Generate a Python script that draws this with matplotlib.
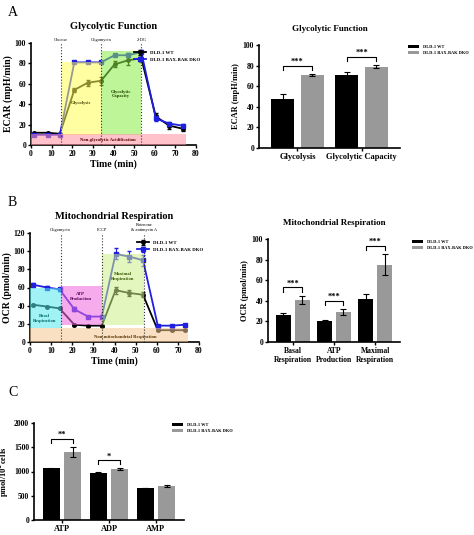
import matplotlib
matplotlib.use("Agg")
import matplotlib.pyplot as plt
import numpy as np
from matplotlib.patches import Rectangle

plt.rcParams['font.family'] = ['Liberation Serif', 'DejaVu Serif']
plt.rcParams['font.weight'] = 'bold'

time = [1.5, 8, 14, 21, 27.5, 34, 40.5, 47, 53.5, 60.5, 67, 73.5]
ecar_wt = [12, 12, 11, 54, 61, 63, 79, 83, 85, 28, 19, 16]
ecar_wt_err = [1, 1, 1, 2, 3, 4, 3, 5, 4, 3, 3, 2]
ecar_ko = [10, 10, 10, 81, 81, 81, 88, 88, 91, 26, 21, 19]
ecar_ko_err = [1, 1, 1, 1, 1, 1, 1, 2, 2, 2, 2, 2]
ocr_wt = [41, 39, 37, 19, 18, 18, 57, 54, 52, 13, 13, 13]
ocr_wt_err = [1, 1, 1, 1, 1, 1, 4, 3, 3, 1, 1, 1]
ocr_ko = [63, 60, 58, 36, 28, 28, 97, 94, 90, 18, 18, 19]
ocr_ko_err = [2, 2, 2, 2, 1, 1, 6, 6, 6, 1, 1, 1]

glyc_cats = ['Glycolysis', 'Glycolytic Capacity']
glyc_wt = [48, 71]; glyc_wt_err = [4, 3]
glyc_ko = [71, 79]; glyc_ko_err = [1, 1.5]

mito_cats = ['Basal\nRespiration', 'ATP\nProduction', 'Maximal\nRespiration']
mito_wt = [26, 20, 42]; mito_wt_err = [2, 1.5, 5]
mito_ko = [41, 29, 75]; mito_ko_err = [4, 3, 10]

nuc_cats = ['ATP', 'ADP', 'AMP']
nuc_wt = [1070, 970, 660]; nuc_wt_err = [10, 20, 8]
nuc_ko = [1400, 1050, 700]; nuc_ko_err = [110, 20, 25]

fig = plt.figure(figsize=(4.74, 5.35), dpi=100)

def fa(x0, y0, x1, y1):
    return fig.add_axes([x0/474, 1-y1/535, (x1-x0)/474, (y1-y0)/535])

def style(ax):
    for s in ['top', 'right']:
        ax.spines[s].set_visible(False)
    for s in ['left', 'bottom']:
        ax.spines[s].set_linewidth(1.2)
    ax.tick_params(labelsize=5.5, width=1, length=2.5, pad=1)

def lineplot(ax, wt, wte, ko, koe, ymax, ylabel, title, rects, vlines, vlab, rlabels):
    ax.errorbar(time, wt, yerr=wte, color='black', marker='o', ms=2.5, lw=1.3, capsize=1.5, elinewidth=0.8, label='DLD-1 WT', zorder=2)
    ax.errorbar(time, ko, yerr=koe, color='#1f1fe0', marker='s', ms=2.5, lw=1.3, capsize=1.5, elinewidth=0.8, label='DLD-1 BAX-BAK DKO', zorder=2)
    for (x0, x1, y0, y1, c) in rects:
        ax.add_patch(Rectangle((x0, y0), x1-x0, y1-y0, color=c, alpha=0.55, lw=0, zorder=3))
    for x, t in zip(vlines, vlab):
        ax.axvline(x, ls=':', color='#333333', lw=0.8, zorder=4)
        ax.text(x, ymax*1.01, t, fontsize=3.2, ha='center', va='bottom', fontweight='normal')
    for (x, y, t, c) in rlabels:
        ax.text(x, y, t, fontsize=3.3, ha='center', va='center', color=c, zorder=5)
    ax.set_xlim(0, 80); ax.set_ylim(0, ymax)
    ax.set_xticks(range(0, 81, 10))
    ax.set_xlabel('Time (min)', fontsize=7, fontweight='bold', labelpad=1)
    ax.set_ylabel(ylabel, fontsize=7, fontweight='bold', labelpad=1)
    ax.set_title(title, fontsize=7.5, fontweight='bold', pad=10)
    ax.legend(fontsize=3.5, frameon=False, loc='upper right', bbox_to_anchor=(1.05, 0.97), handlelength=2.5)
    style(ax)

ax1 = fa(31, 43, 196, 145)
lineplot(ax1, ecar_wt, ecar_wt_err, ecar_ko, ecar_ko_err, 100, 'ECAR (mpH/min)', 'Glycolytic Function',
         [(14.5, 34, 10, 81, '#ffff55'), (34, 53.5, 10, 92, '#88ee44'), (0, 75, 0, 11, '#ff8fa0')],
         [14.5, 34, 53.5], ['Glucose', 'Oligomycin', '2-DG'],
         [(24, 41, 'Glycolysis', '#444400'), (43.5, 50, 'Glycolytic\nCapacity', '#224400'),
          (37, 5, 'Non-glycolytic Acidification', '#550000')])

ax2 = fa(30, 233, 199, 342)
lineplot(ax2, ocr_wt, ocr_wt_err, ocr_ko, ocr_ko_err, 120, 'OCR (pmol/min)', 'Mitochondrial Respiration',
         [(0, 14.5, 15, 60, '#55e8ee'), (14.5, 34, 19, 62, '#ee66dd'), (34, 54, 19, 97, '#ccf088'), (0, 75, 0, 15, '#f5c890')],
         [14.5, 34, 54], ['Oligomycin', 'FCCP', 'Rotenone\n& antimycin A'],
         [(7, 26, 'Basal\nRespiration', '#006666'), (24, 50, 'ATP\nProduction', '#550055'),
          (44, 72, 'Maximal\nRespiration', '#335500'), (45, 6, 'Non-mitochondrial Respiration', '#553300')])

def bars(ax, cats, wt, wte, ko, koe, ymax, yticks, ylabel, title, stars, lab_fs, legpx, legpy):
    x = np.arange(len(cats))
    w = 0.36
    ax.bar(x - 0.23, wt, w, yerr=wte, color='black', capsize=2.5, error_kw=dict(elinewidth=0.8, capthick=0.8), label='DLD-1 WT')
    ax.bar(x + 0.23, ko, w, yerr=koe, color='#999999', capsize=2.5, error_kw=dict(elinewidth=0.8, capthick=0.8, ecolor='black'), label='DLD-1 BAX-BAK DKO')
    for i, s in stars:
        top = max(wt[i] + wte[i], ko[i] + koe[i]) + ymax*0.04
        h = ymax*0.04
        ax.plot([x[i]-0.23, x[i]-0.23, x[i]+0.23, x[i]+0.23], [top, top+h, top+h, top], color='black', lw=0.8)
        ax.text(x[i], top+h, s, ha='center', va='bottom', fontsize=6)
    ax.set_xticks(x); ax.set_xticklabels(cats, fontsize=lab_fs, fontweight='bold')
    ax.set_xlim(-0.6, len(cats)-0.4)
    ax.set_ylim(0, ymax); ax.set_yticks(yticks)
    ax.set_ylabel(ylabel, fontsize=6, fontweight='bold', labelpad=2)
    if title:
        ax.set_title(title, fontsize=6.5, fontweight='bold', pad=10)
    style(ax)
    ax.tick_params(axis='x', labelsize=lab_fs, length=2.5)
    ax.legend(fontsize=3.2, frameon=False, loc='upper left', bbox_to_anchor=(legpx/474, 1-legpy/535),
              bbox_transform=fig.transFigure, handlelength=2.5, borderaxespad=0, borderpad=0)

ax3 = fa(259, 45, 400, 148)
bars(ax3, glyc_cats, glyc_wt, glyc_wt_err, glyc_ko, glyc_ko_err, 100, range(0, 101, 20), 'ECAR (mpH/min)', 'Glycolytic Function', [(0, '***'), (1, '***')], 6, 408, 45)

ax4 = fa(268, 239, 400, 342)
bars(ax4, mito_cats, mito_wt, mito_wt_err, mito_ko, mito_ko_err, 100, range(0, 101, 20), 'OCR (pmol/min)', 'Mitochondrial Respiration', [(0, '***'), (1, '***'), (2, '***')], 5.5, 412, 240)

ax5 = fa(34, 423, 184, 520)
bars(ax5, nuc_cats, nuc_wt, nuc_wt_err, nuc_ko, nuc_ko_err, 2000, range(0, 2001, 500), 'pmol/10$^6$cells', None, [(0, '**'), (1, '*')], 6, 172, 423)

fig.text(8/474, 1-12/535, 'A', fontsize=10, fontweight='normal', va='center')
fig.text(8/474, 1-202/535, 'B', fontsize=10, fontweight='normal', va='center')
fig.text(8/474, 1-393/535, 'C', fontsize=10, fontweight='normal', va='center')

fig.savefig('out.png', dpi=100)
